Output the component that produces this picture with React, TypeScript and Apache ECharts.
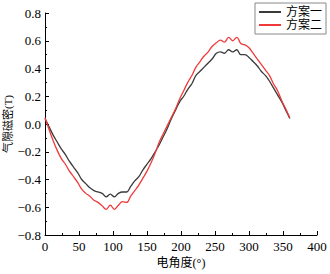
import React, { useEffect, useRef } from "react";
import * as echarts from "echarts";

const angles = [
  0, 6, 12, 18, 24, 30, 36, 42, 48, 54, 60, 66, 72, 78, 84, 90, 96, 102, 108, 114, 120,
  126, 132, 138, 144, 150, 156, 162, 168, 174, 180, 186, 192, 198, 204, 210, 216, 222,
  228, 234, 240, 246, 252, 258, 264, 270, 276, 282, 288, 294, 300, 306, 312, 318, 324,
  330, 336, 342, 348, 354, 360,
];

const scheme1 = [
  0.04, -0.02, -0.08, -0.13, -0.18, -0.22, -0.27, -0.31, -0.35, -0.4, -0.43, -0.46, -0.48,
  -0.49, -0.5, -0.525, -0.505, -0.525, -0.5, -0.49, -0.49, -0.45, -0.41, -0.38, -0.33,
  -0.29, -0.25, -0.2, -0.15, -0.09, -0.03, 0.04, 0.1, 0.16, 0.2, 0.25, 0.29, 0.35, 0.38,
  0.41, 0.44, 0.47, 0.51, 0.52, 0.51, 0.535, 0.52, 0.535, 0.5, 0.5, 0.48, 0.45, 0.42,
  0.38, 0.35, 0.31, 0.26, 0.21, 0.16, 0.1, 0.04,
];

const scheme2 = [
  0.045, -0.04, -0.12, -0.19, -0.25, -0.29, -0.34, -0.38, -0.42, -0.47, -0.5, -0.52,
  -0.55, -0.565, -0.59, -0.615, -0.585, -0.615, -0.585, -0.56, -0.565, -0.52, -0.48,
  -0.44, -0.39, -0.34, -0.28, -0.21, -0.13, -0.07, -0.01, 0.05, 0.11, 0.18, 0.24, 0.3,
  0.35, 0.41, 0.45, 0.49, 0.52, 0.56, 0.585, 0.605, 0.59, 0.625, 0.6, 0.625, 0.58, 0.57,
  0.55, 0.51, 0.47, 0.43, 0.39, 0.35, 0.29, 0.24, 0.17, 0.11, 0.045,
];

const seriesNames = ["方案一", "方案二"];
const xTitle = "电角度(°)";
const yTitle = "气隙磁密(T)";

const FONT = "'Liberation Serif', 'Noto Sans CJK SC', serif";

export default function App() {
  const ref = useRef<HTMLDivElement>(null);
  useEffect(() => {
    if (!ref.current) return;
    const chart = echarts.init(ref.current, undefined, { renderer: "svg" });
    const axisCommon = {
      axisTick: { show: true, inside: true, length: 4, lineStyle: { color: "#000" } },
      minorTick: { show: true, splitNumber: 2, length: 2, lineStyle: { color: "#000" } },
      splitLine: { show: false },
      axisLabel: { color: "#000", fontFamily: FONT, fontSize: 13 },
      nameTextStyle: { color: "#000", fontFamily: FONT, fontSize: 12 },
    };
    chart.setOption({
      animation: false,
      backgroundColor: "#fff",
      grid: { left: 45, right: 13, top: 13, bottom: 39, containLabel: false, outerBoundsMode: "none" },
      legend: {
        orient: "vertical",
        right: 4,
        top: 3,
        itemGap: 1,
        itemWidth: 22,
        itemHeight: 2,
        icon: "rect",
        padding: [3, 4, 3, 4],
        borderColor: "#888",
        borderWidth: 1,
        textStyle: { color: "#000", fontFamily: FONT, fontSize: 12 },
        data: seriesNames,
      },
      xAxis: {
        type: "value",
        min: 0,
        max: 400,
        interval: 50,
        name: xTitle,
        nameLocation: "middle",
        nameGap: 22,
        nameMoveOverlap: false,
        ...axisCommon,
        axisLine: { show: true, onZero: false, lineStyle: { color: "#000", width: 1 } },
        axisLabel: { ...axisCommon.axisLabel, margin: 5 },
      },
      yAxis: {
        type: "value",
        min: -0.8,
        max: 0.8,
        interval: 0.2,
        name: yTitle,
        nameLocation: "middle",
        nameRotate: 90,
        nameGap: 32,
        nameMoveOverlap: false,
        ...axisCommon,
        nameTextStyle: { ...axisCommon.nameTextStyle, fontSize: 11 },
        axisLine: { show: true, onZero: false, lineStyle: { color: "#000", width: 1 } },
        axisLabel: {
          ...axisCommon.axisLabel,
          margin: 4,
          formatter: (v: number) => {
            const s = Math.abs(v).toFixed(1);
            return v < -1e-9 ? "\u2212" + s : s;
          },
        },
      },
      series: [
        {
          name: seriesNames[0],
          type: "line",
          smooth: 0.4,
          showSymbol: false,
          symbol: "none",
          lineStyle: { color: "#3a3a3a", width: 1.3 },
          itemStyle: { color: "#3a3a3a" },
          data: angles.map((a, i) => [a, scheme1[i]]),
        },
        {
          name: seriesNames[1],
          type: "line",
          smooth: 0.4,
          showSymbol: false,
          symbol: "none",
          lineStyle: { color: "#f03a3a", width: 1.3 },
          itemStyle: { color: "#f03a3a" },
          data: angles.map((a, i) => [a, scheme2[i]]),
        },
      ],
    });
    return () => chart.dispose();
  }, []);
  return <div ref={ref} style={{ width: 330, height: 274, position: "fixed", left: 0, top: 0 }} />;
}
